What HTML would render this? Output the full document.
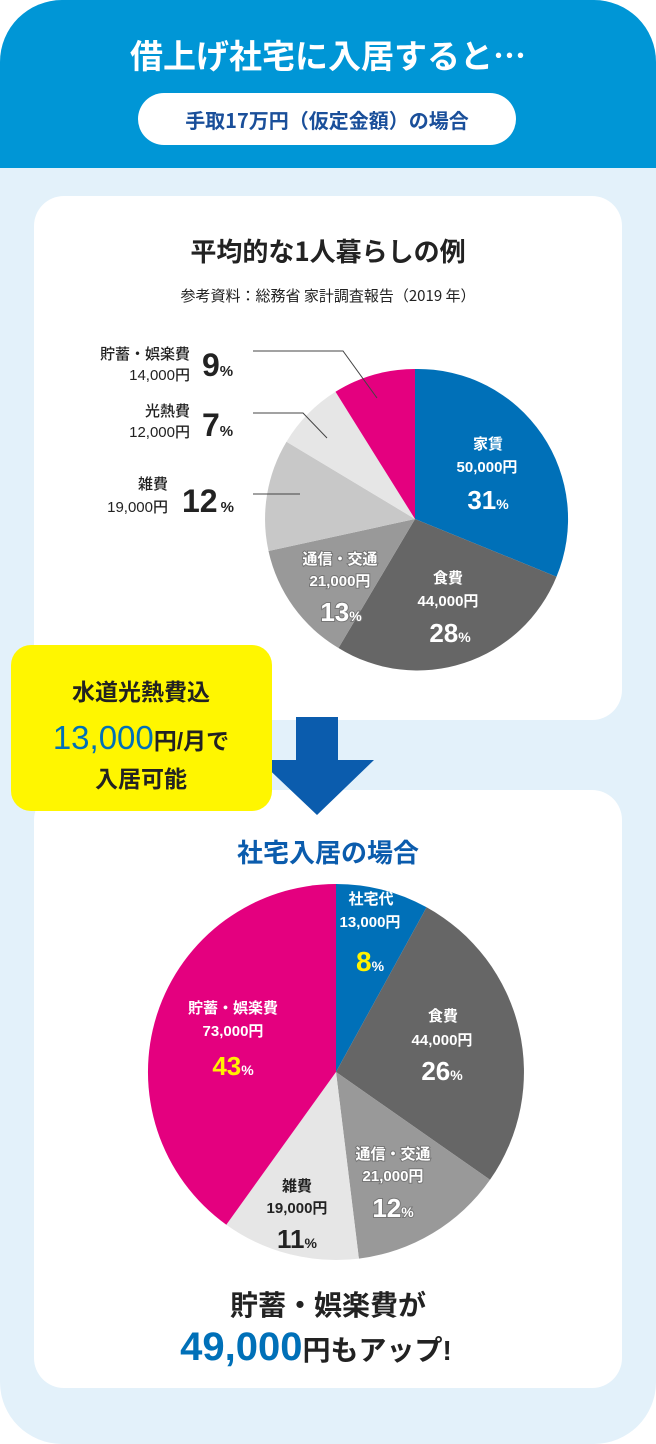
<!DOCTYPE html>
<html><head><meta charset="utf-8"><style>
html,body{margin:0;padding:0;background:#fff;}
svg{display:block;}
text{font-family:"Liberation Sans","Noto Sans CJK JP",sans-serif;}
.j{font-family:"Noto Sans CJK JP",sans-serif;}
</style></head><body>
<svg width="656" height="1444" viewBox="0 0 656 1444" xmlns="http://www.w3.org/2000/svg">
<defs><clipPath id="c"><rect x="0" y="0" width="656" height="1444" rx="62"/></clipPath></defs>
<g clip-path="url(#c)">
<rect width="656" height="1444" fill="#e3f1fa"/>
<rect width="656" height="168" fill="#0096d6"/>
</g>
<text x="328" y="68" text-anchor="middle" class="j" font-size="33" font-weight="700" fill="#fff">借上げ社宅に入居すると…</text>
<rect x="138" y="93" width="378" height="52" rx="26" fill="#fff"/>
<text x="327" y="128" text-anchor="middle" class="j" font-size="20" font-weight="700" fill="#1a4f9a">手取17万円（仮定金額）の場合</text>

<rect x="34" y="196" width="588" height="524" rx="30" fill="#fff"/>
<text x="328" y="261" text-anchor="middle" class="j" font-size="26" font-weight="700" fill="#222">平均的な1人暮らしの例</text>
<text x="328" y="301" text-anchor="middle" class="j" font-size="15" fill="#222">参考資料：総務省 家計調査報告（2019 年）</text>

<g>
<path d="M415 519 L415 369 A150 150 0 0 1 556.5 576.7 Z" fill="#0070b8"/>
<path d="M415 519 L556.5 576.7 A150 150 0 0 1 338.5 648 Z" fill="#666"/>
<path d="M415 519 L338.5 648 A150 150 0 0 1 268.5 551 Z" fill="#999"/>
<path d="M415 519 L268.5 551 A150 150 0 0 1 286.5 441.7 Z" fill="#c8c8c8"/>
<path d="M415 519 L286.5 441.7 A150 150 0 0 1 335.5 391.8 Z" fill="#e6e6e6"/>
<path d="M415 519 L335.5 391.8 A150 150 0 0 1 415 369 Z" fill="#e4007f"/>
</g>
<g stroke="#444" stroke-width="1" fill="none">
<polyline points="253,351 343,351 377,398"/>
<polyline points="253,413 303,413 327,438"/>
<polyline points="253,494 300,494"/>
</g>
<g class="j" font-weight="500" fill="#222">
<text x="190" y="359" text-anchor="end" font-size="15">貯蓄・娯楽費</text>
<text x="190" y="380" text-anchor="end" font-size="15">14,000円</text>
<text x="202" y="376" font-size="32" font-weight="700">9<tspan font-size="15">%</tspan></text>
<text x="190" y="416" text-anchor="end" font-size="15">光熱費</text>
<text x="190" y="437" text-anchor="end" font-size="15">12,000円</text>
<text x="202" y="436" font-size="32" font-weight="700">7<tspan font-size="15">%</tspan></text>
<text x="168" y="489" text-anchor="end" font-size="15">雑費</text>
<text x="168" y="512" text-anchor="end" font-size="15">19,000円</text>
<text x="182" y="512" font-size="32" font-weight="700">12<tspan font-size="15" dx="3">%</tspan></text>
</g>
<g class="j" font-weight="700" fill="#fff" text-anchor="middle">
<text x="488" y="449" font-size="15">家賃</text>
<text x="487" y="472" font-size="15">50,000円</text>
<text x="488" y="509" font-size="26">31<tspan font-size="14">%</tspan></text>
<text x="448" y="583" font-size="15">食費</text>
<text x="448" y="606" font-size="15">44,000円</text>
<text x="450" y="642" font-size="26">28<tspan font-size="14">%</tspan></text>
<g stroke="#777" stroke-width="2" paint-order="stroke">
<text x="340" y="564" font-size="15">通信・交通</text>
<text x="340" y="586" font-size="15">21,000円</text>
<text x="341" y="621" font-size="26">13<tspan font-size="14">%</tspan></text>
</g>
</g>

<rect x="34" y="790" width="588" height="598" rx="30" fill="#fff"/>
<polygon points="296,717 338,717 338,760 374,760 317,815 259,760 296,760" fill="#0b5cad"/>
<rect x="11" y="645" width="261" height="166" rx="20" fill="#fff600"/>
<g class="j" font-weight="700" text-anchor="middle">
<text x="141" y="700" font-size="23" fill="#222">水道光熱費込</text>
<text x="141" y="749" font-size="23" fill="#222"><tspan font-family="Liberation Sans,sans-serif" font-size="33" fill="#0070b8" font-weight="400">13,000</tspan>円/月で</text>
<text x="141" y="787" font-size="23" fill="#222">入居可能</text>
</g>

<text x="328" y="862" text-anchor="middle" class="j" font-size="26" font-weight="700" fill="#0b5cad">社宅入居の場合</text>

<path d="M336 1072 L336 884 A188 188 0 0 1 426.6 907.3 Z" fill="#0070b8"/>
<path d="M336 1072 L426.6 907.3 A188 188 0 0 1 490 1179.8 Z" fill="#666"/>
<path d="M336 1072 L490 1179.8 A188 188 0 0 1 358.9 1258.6 Z" fill="#999"/>
<path d="M336 1072 L358.9 1258.6 A188 188 0 0 1 226.3 1224.7 Z" fill="#e6e6e6"/>
<path d="M336 1072 L226.3 1224.7 A188 188 0 0 1 336 884 Z" fill="#e4007f"/>
<g class="j" font-weight="700" text-anchor="middle" fill="#fff">
<text x="371" y="904" font-size="15">社宅代</text>
<text x="370" y="927" font-size="15">13,000円</text>
<text x="370" y="971" font-size="28" fill="#fff200">8<tspan font-size="14" fill="#fff">%</tspan></text>
<text x="443" y="1021" font-size="15">食費</text>
<text x="442" y="1045" font-size="15">44,000円</text>
<text x="442" y="1080" font-size="26">26<tspan font-size="14">%</tspan></text>
<g stroke="#777" stroke-width="2" paint-order="stroke">
<text x="393" y="1159" font-size="15">通信・交通</text>
<text x="393" y="1181" font-size="15">21,000円</text>
<text x="393" y="1217" font-size="26">12<tspan font-size="14">%</tspan></text>
</g>
<text x="297" y="1191" font-size="15" fill="#222">雑費</text>
<text x="297" y="1213" font-size="15" fill="#222">19,000円</text>
<text x="297" y="1248" font-size="26" fill="#222">11<tspan font-size="14">%</tspan></text>
<text x="233" y="1013" font-size="15">貯蓄・娯楽費</text>
<text x="233" y="1036" font-size="15">73,000円</text>
<text x="233" y="1075" font-size="26" fill="#fff200">43<tspan font-size="14" fill="#fff">%</tspan></text>
</g>

<g class="j" font-weight="700" text-anchor="middle" fill="#222">
<text x="328" y="1315" font-size="28">貯蓄・娯楽費が</text>
<text x="316" y="1360" font-size="28"><tspan font-size="40" fill="#0070b8">49,000</tspan>円もアップ!</text>
</g>
</svg>
</body></html>
